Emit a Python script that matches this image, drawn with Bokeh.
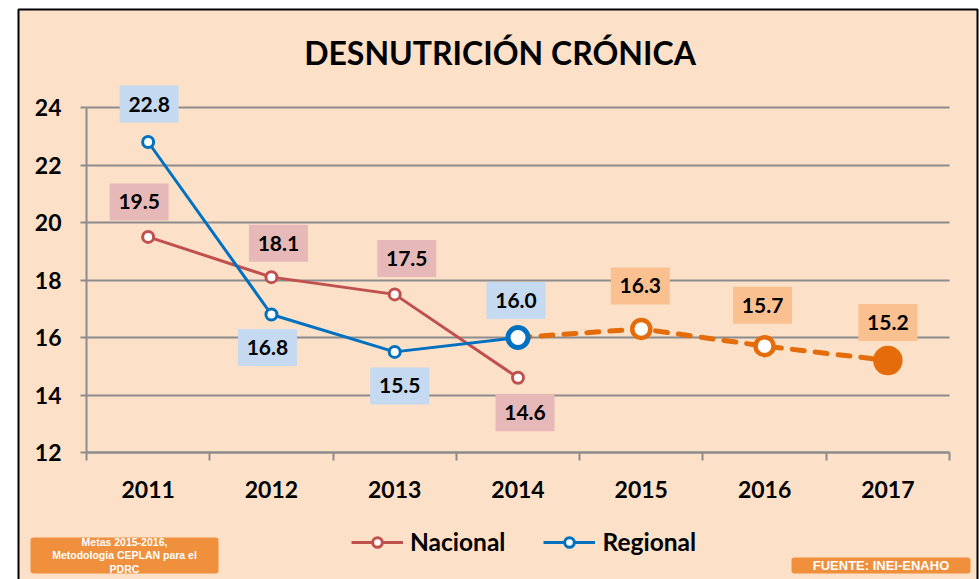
from bokeh.plotting import figure
from bokeh.models import Label, Legend, LegendItem, FixedTicker, ColumnDataSource, Range1d
from bokeh.core.properties import value
from bokeh.embed import file_html
from bokeh.resources import INLINE

# ---------------- data ----------------
years = ["2011", "2012", "2013", "2014", "2015", "2016", "2017"]
nacional_years = ["2011", "2012", "2013", "2014"]
nacional = [19.5, 18.1, 17.5, 14.6]
regional_years = ["2011", "2012", "2013", "2014"]
regional = [22.8, 16.8, 15.5, 16.0]
meta_years = ["2014", "2015", "2016", "2017"]
meta = [16.0, 16.3, 15.7, 15.2]
y_ticks = [12, 14, 16, 18, 20, 22, 24]
title_text = "DESNUTRICIÓN CRÓNICA"
series_names = ["Nacional", "Regional"]
note_text = "Metas 2015-2016,\nMetodologia CEPLAN para el\nPDRC"
source_text = "FUENTE: INEI-ENAHO"

# ---------------- styles ----------------
BG = "#FCE0C8"
RED = "#C0504D"
BLUE = "#0070C0"
ORANGE = "#E46C0A"
RED_BOX = "#E6B9B8"
BLUE_BOX = "#C5D9F1"
ORANGE_BOX = "#FAC090"
NOTE_BOX = "#F0903C"
GRID = "#8C8C8C"
FONT = "Lato"

# ---------------- layout (picture pixels) ----------------
W, H = 979, 579
CX0, CY0 = 0, 0                      # canvas origin in the picture
PA_L, PA_R, PA_T, PA_B = 86, 949, 107, 452   # plot area in the picture
SX = (PA_R - PA_L) / len(years)
SY = (PA_B - PA_T) / (y_ticks[-1] - y_ticks[0])


def px_to_data(px, py):
    return (px - PA_L) / SX - 0.5, y_ticks[0] + (PA_B - py) / SY


x0, y1 = px_to_data(CX0, CY0)
x1, y0 = px_to_data(CX0 + W, CY0 + H)

p = figure(width=W, height=H, title=None,
           x_range=Range1d(x0, x1), y_range=Range1d(y0, y1),
           output_backend="svg", toolbar_location=None, min_border=0,
           background_fill_color="white", border_fill_color="white",
           outline_line_color=None)

# chart area background with black frame
bx0, by1 = px_to_data(18, 9)
bx1, by0 = px_to_data(977, 800)
p.quad(left=[bx0], right=[bx1], top=[by1], bottom=[by0], level="image",
       fill_color=BG, line_color="black", line_width=2)

# ---------------- axes ----------------
centers = list(range(len(years)))
bounds = [i - 0.5 for i in range(len(years) + 1)]
p.xaxis.fixed_location = y_ticks[0]
p.xaxis.bounds = (-0.5, len(years) - 0.5)
p.xaxis.ticker = FixedTicker(ticks=centers, minor_ticks=bounds)
p.xaxis.major_label_overrides = {i: y for i, y in enumerate(years)}
p.xaxis.major_tick_out = 0
p.xaxis.major_tick_in = 0
p.xaxis.minor_tick_out = 8
p.xaxis.minor_tick_in = 0
p.xaxis.minor_tick_line_color = GRID
p.xaxis.minor_tick_line_width = 2
p.xaxis.major_label_standoff = 20

p.yaxis.fixed_location = -0.5
p.yaxis.bounds = (y_ticks[0], y_ticks[-1])
p.yaxis.ticker = FixedTicker(ticks=y_ticks)
p.yaxis.major_tick_out = 6
p.yaxis.major_tick_in = 0
p.yaxis.minor_tick_line_color = None
p.yaxis.major_tick_line_color = GRID
p.yaxis.major_tick_line_width = 2
p.yaxis.major_label_standoff = 19

for ax in (p.xaxis, p.yaxis):
    ax.axis_line_color = GRID
    ax.axis_line_width = 2
    ax.major_label_text_font = FONT
    ax.major_label_text_font_style = "bold"
    ax.major_label_text_font_size = "23px"
    ax.major_label_text_color = "black"
    ax.level = "underlay"

p.xgrid.visible = False
p.ygrid.ticker = FixedTicker(ticks=y_ticks)
p.ygrid.bounds = (y_ticks[0], y_ticks[-1])
p.ygrid.cross_bounds = (-0.5, len(years) - 0.5)
p.ygrid.grid_line_color = GRID
p.ygrid.grid_line_width = 2

# ---------------- series ----------------
xn = [years.index(y) for y in nacional_years]
xr = [years.index(y) for y in regional_years]
xm = [years.index(y) for y in meta_years]

nac_line = p.line(xn, nacional, line_color=RED, line_width=3)
reg_line = p.line(xr, regional, line_color=BLUE, line_width=3)
p.line(xm, meta, line_color=ORANGE, line_width=5, line_dash="12 11", line_cap="round")

nac_pts = p.scatter(xn, nacional, size=11, fill_color="white",
                    line_color=RED, line_width=3)

reg_src = ColumnDataSource(dict(
    x=xr, y=regional,
    size=[11] * (len(regional) - 1) + [20],
    lw=[3] * (len(regional) - 1) + [5]))
reg_pts = p.scatter("x", "y", source=reg_src, size="size", line_width="lw",
                    fill_color="white", line_color=BLUE)

meta_src = ColumnDataSource(dict(
    x=xm[1:], y=meta[1:],
    size=[18] * (len(meta) - 2) + [25],
    fill=["white"] * (len(meta) - 2) + [ORANGE]))
p.scatter("x", "y", source=meta_src, size="size", line_width=4.5,
          fill_color="fill", line_color=ORANGE)

# ---------------- data labels (pixel offsets from each point) ----------------
nac_off = [(-9, 35), (7, 34), (12, 36), (7, -35)]
reg_off = [(1, 38), (-4, -33), (5, -34), (-2, 37)]
meta_off = [(-1, 43), (-2, 41), (0, 38)]

lab = dict(x=[], y=[], text=[], box=[])
for xs, ys, offs, box in ((xn, nacional, nac_off, RED_BOX),
                          (xr, regional, reg_off, BLUE_BOX),
                          (xm[1:], meta[1:], meta_off, ORANGE_BOX)):
    for x, y, (dx, dy) in zip(xs, ys, offs):
        lab["x"].append(x + dx / SX)
        lab["y"].append(y + dy / SY)
        lab["text"].append(f"{y:.1f}")
        lab["box"].append(box)
lab_src = ColumnDataSource(lab)
p.rect("x", "y", width=59, height=37, width_units="screen", height_units="screen",
       source=lab_src, fill_color="box", line_color=None)
p.text("x", "y", text="text", source=lab_src, text_align="center",
       text_baseline="middle", text_font=value(FONT), text_font_style="bold",
       text_font_size="21px", text_color="black")

# ---------------- title & notes ----------------
tx, ty = px_to_data(499.5, 52)
p.add_layout(Label(x=tx, y=ty, text=title_text, text_align="center",
                   text_baseline="middle", text_font=FONT,
                   text_font_style="bold", text_font_size="32px",
                   text_color="black"))

nx, ny = px_to_data(124, 555)
sx, sy = px_to_data(880.5, 565)
note_src = ColumnDataSource(dict(x=[nx, sx], y=[ny, sy], w=[188, 179], h=[36, 16],
                                 text=[note_text, source_text],
                                 size=["10.5px", "13px"]))
p.rect("x", "y", width="w", height="h", width_units="screen", height_units="screen",
       source=note_src, fill_color=NOTE_BOX, line_color=None,
       border_radius=3)
p.text("x", "y", text="text", source=note_src, text_align="center",
       text_baseline="middle", text_font=value("Liberation Sans"),
       text_font_style="bold", text_font_size="size", text_color="white",
       text_line_height=1.15)

# ---------------- legend ----------------
legend = Legend(items=[LegendItem(label=series_names[0], renderers=[nac_line, nac_pts]),
                       LegendItem(label=series_names[1], renderers=[reg_line, reg_pts], index=0)],
                location=(351 - CX0, (CY0 + H) - 556), orientation="horizontal",
                glyph_width=52, glyph_height=24, label_standoff=7, spacing=38,
                padding=0, margin=0, background_fill_alpha=0,
                border_line_color=None, label_text_font=FONT,
                label_text_font_style="bold", label_text_font_size="24.5px",
                label_text_color="black", label_height=24)
p.add_layout(legend)

open("out.html", "w").write(file_html(p, INLINE))
